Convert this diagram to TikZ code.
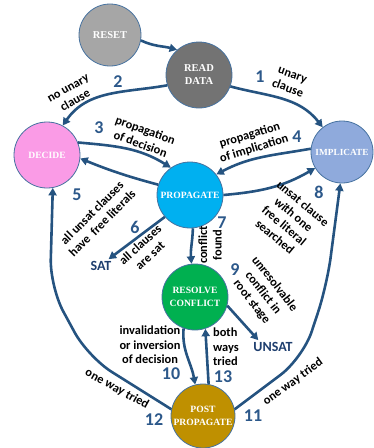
\documentclass[tikz,border=0pt]{standalone}
\usepackage{fontspec}
\setmainfont{Liberation Serif}
\newfontfamily\lblfont{Carlito}
\usetikzlibrary{arrows.meta}
\definecolor{arrc}{RGB}{37,83,128}
\definecolor{numc}{RGB}{44,88,138}
\definecolor{termc}{RGB}{30,62,110}
\definecolor{bord}{RGB}{70,114,160}
\definecolor{resetc}{RGB}{166,166,166}
\definecolor{readc}{RGB}{115,115,115}
\definecolor{decidec}{RGB}{250,155,230}
\definecolor{implc}{RGB}{143,170,220}
\definecolor{propc}{RGB}{0,176,240}
\definecolor{resolc}{RGB}{0,176,80}
\definecolor{postc}{RGB}{191,144,0}
\begin{document}
\begin{tikzpicture}[x=1pt,y=1pt,
  state/.style={circle, minimum size=66pt, inner sep=0pt, draw=bord, line width=0.8pt,
    text=white, font=\fontsize{9.6}{12.5}\selectfont\bfseries, align=center},
  conn/.style={draw=arrc, line width=2.6pt, -{Triangle[length=7.5pt,width=8pt]}},
  lbl/.style={font=\lblfont\fontsize{12.4}{14.5}\selectfont\bfseries, align=center, inner sep=0pt},
  num/.style={font=\lblfont\fontsize{18}{18}\selectfont\bfseries, text=numc, inner sep=0pt},
  term/.style={font=\lblfont\fontsize{14}{14}\selectfont\bfseries, text=termc, inner sep=2pt}]
\useasboundingbox (0,0) rectangle (374,-448);

% states
\node[state, fill=resetc, minimum size=62pt, font=\fontsize{10.5}{12.5}\selectfont\bfseries] (reset) at (110,-35) {RESET};
\node[state, fill=readc, font=\fontsize{10.5}{13}\selectfont\bfseries] (read) at (199,-75) {READ\\DATA};
\node[state, fill=decidec] (decide) at (47,-155) {DECIDE};
\node[state, fill=implc, minimum size=62pt, font=\fontsize{9.3}{12}\selectfont\bfseries] (impl) at (342,-152) {IMPLICATE};
\node[state, fill=propc] (prop) at (190,-195) {PROPAGATE};
\node[state, fill=resolc] (resol) at (195,-297) {RESOLVE\\CONFLICT};
\node[state, fill=postc, minimum size=64pt] (post) at (203,-416) {POST\\PROPAGATE};
\node[term] (sat) at (101,-266) {SAT};
\node[term] (unsat) at (273,-347) {UNSAT};

% connectors
\draw[conn] (reset.-10) to[out=-25,in=165] (read.131);
\draw[conn] (read.-20) to[out=-15,in=128] (impl.128);
\draw[conn] (read.198) to[out=190,in=55] (decide.62);
\draw[conn] (decide.22) to[out=-5,in=148] (prop.125);
\draw[conn] (impl.174) to[out=190,in=28] (prop.38);
\draw[conn] (prop.162) to[out=165,in=-22] (decide.-6);
\draw[conn] (prop.221) -- (sat.42);
\draw[conn] (prop.-85) to[out=-92,in=95] (resol.96);
\draw[conn] (prop.0) to[out=5,in=210] (impl.211);
\draw[conn] (resol.-15) -- (unsat.155);
\draw[conn] (resol.-110) to[out=-95,in=100] (post.104);
\draw[conn] (post.80) -- (resol.-72);
\draw[conn, rounded corners=28pt] (post.12) -- (303,-358) -- (327,-285) -- (impl.-93);
\draw[conn, rounded corners=28pt] (post.168) -- (88,-357) -- (50,-287) -- (decide.-80);

% numbers
\node[num] (n1) at (260,-77) {1};
\node[num] (n2) at (118,-82) {2};
\node[num] (n3) at (99,-128) {3};
\node[num] (n4) at (297,-137) {4};
\node[num] (n5) at (77,-195) {5};
\node[num] (n6) at (135,-227) {6};
\node[num] (n7) at (222,-223) {7};
\node[num] (n8) at (319,-192) {8};
\node[num] (n9) at (235,-270) {9};
\node[num] (n10) at (171,-374) {10};
\node[num] (n11) at (253,-416) {11};
\node[num] (n12) at (154,-420) {12};
\node[num] (n13) at (223,-377) {13};

% labels
\node[lbl, rotate=-20] (l1) at (290,-82) {unary\\clause};
\node[lbl, rotate=30] (l2) at (72,-95) {no unary\\clause};
\node[lbl, rotate=-20] (l3) at (143,-137) {propagation\\of decision};
\node[lbl, rotate=17] (l4) at (252,-142) {propagation\\of implication};
\node[lbl, rotate=45] (l5) at (97,-218) {all unsat clauses\\have~ free literals};
\node[lbl, rotate=42] (l6) at (145,-250) {all clauses\\are sat};
\node[lbl, rotate=90] (l7) at (210,-245) {conflict\\found};
\node[lbl, rotate=-40] (l8) at (289,-220) {unsat clause\\with one\\free literal\\searched};
\node[lbl, rotate=-52] (l9) at (263,-293) {unresolvable\\conflict in\\root stage};
\node[lbl] (l10) at (150,-345) {invalidation\\or inversion\\of decision};
\node[lbl, align=left] (l13) at (226,-347) {both\\ways\\tried};
\node[lbl, rotate=36] (l11) at (293,-382) {one way tried};
\node[lbl, rotate=-29] (l12) at (117,-389) {one way tried};
\end{tikzpicture}
\end{document}
